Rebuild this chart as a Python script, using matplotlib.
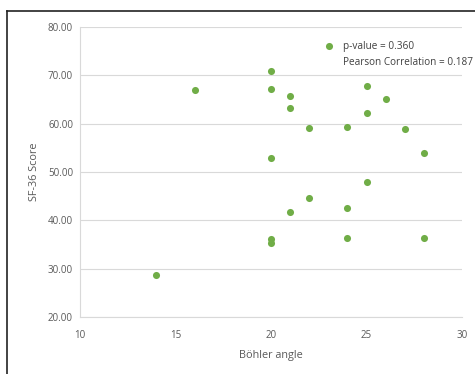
import matplotlib.pyplot as plt
from matplotlib.lines import Line2D

# Böhler angle vs SF-36 score
bohler = [14, 16, 20, 20, 20, 20, 20, 21, 21, 21, 22, 22, 24, 24, 24,
          25, 25, 25, 26, 27, 28, 28]
sf36 = [28.7, 67.0, 70.8, 67.2, 52.8, 36.2, 35.4, 65.7, 63.3, 41.7, 59.1, 44.7,
        59.3, 42.5, 36.3, 67.8, 62.2, 48.0, 65.2, 58.9, 53.9, 36.3]
legend_lines = ["p-value = 0.360", "Pearson Correlation = 0.187"]
x_ticks = [10, 15, 20, 25, 30]
y_ticks = [20, 30, 40, 50, 60, 70, 80]

plt.rcParams['font.family'] = ['Open Sans', 'DejaVu Sans']
text_col = '#595959'
green = '#70ad47'

fig = plt.figure(figsize=(4.75, 3.74), dpi=100)
ax = fig.add_axes([80 / 475, 1 - 317 / 374, (462 - 80) / 475, (317 - 27) / 374])

ax.scatter(bohler, sf36, s=26, color=green, zorder=3, linewidths=0,
           label=legend_lines[0])

ax.set_xlim(10, 30)
ax.set_ylim(20, 80)
ax.set_xticks(x_ticks)
ax.set_yticks(y_ticks)
ax.set_yticklabels([f"{v:.2f}" for v in y_ticks])
ax.tick_params(length=0, labelsize=7, colors=text_col)
ax.tick_params(axis='y', pad=5)
ax.tick_params(axis='x', pad=9)
ax.grid(axis='y', color='#d9d9d9', linewidth=0.8)
ax.set_axisbelow(True)
for side in ['top', 'right']:
    ax.spines[side].set_visible(False)
for side in ['left', 'bottom']:
    ax.spines[side].set_color('#d9d9d9')
    ax.spines[side].set_linewidth(0.8)

ax.set_xlabel("Böhler angle", fontsize=7.8, color=text_col, labelpad=7)
ax.set_ylabel("SF-36 Score", fontsize=7.8, color=text_col, labelpad=6)

leg = ax.legend(loc='upper left', bbox_to_anchor=(0.615, 0.967), frameon=False,
                fontsize=7.2, handletextpad=0.45, borderaxespad=0, labelspacing=0)
leg.get_texts()[0].set_color('#404040')

# second legend line sits under the first one
fig.canvas.draw()
bb = leg.get_texts()[0].get_window_extent()
x0, y0 = fig.transFigure.inverted().transform((bb.x0, bb.y0 - 16))
fig.text(x0, y0, legend_lines[1], fontsize=7.2, color='#404040', ha='left', va='bottom')

# frame around the chart (top and left edges visible)
fig.add_artist(Line2D([7 / 475, 1], [1 - 11 / 374, 1 - 11 / 374], color='#222222', lw=1.2))
fig.add_artist(Line2D([7 / 475, 7 / 475], [0, 1 - 11 / 374], color='#222222', lw=1.2))

fig.savefig('out.png', dpi=100)
